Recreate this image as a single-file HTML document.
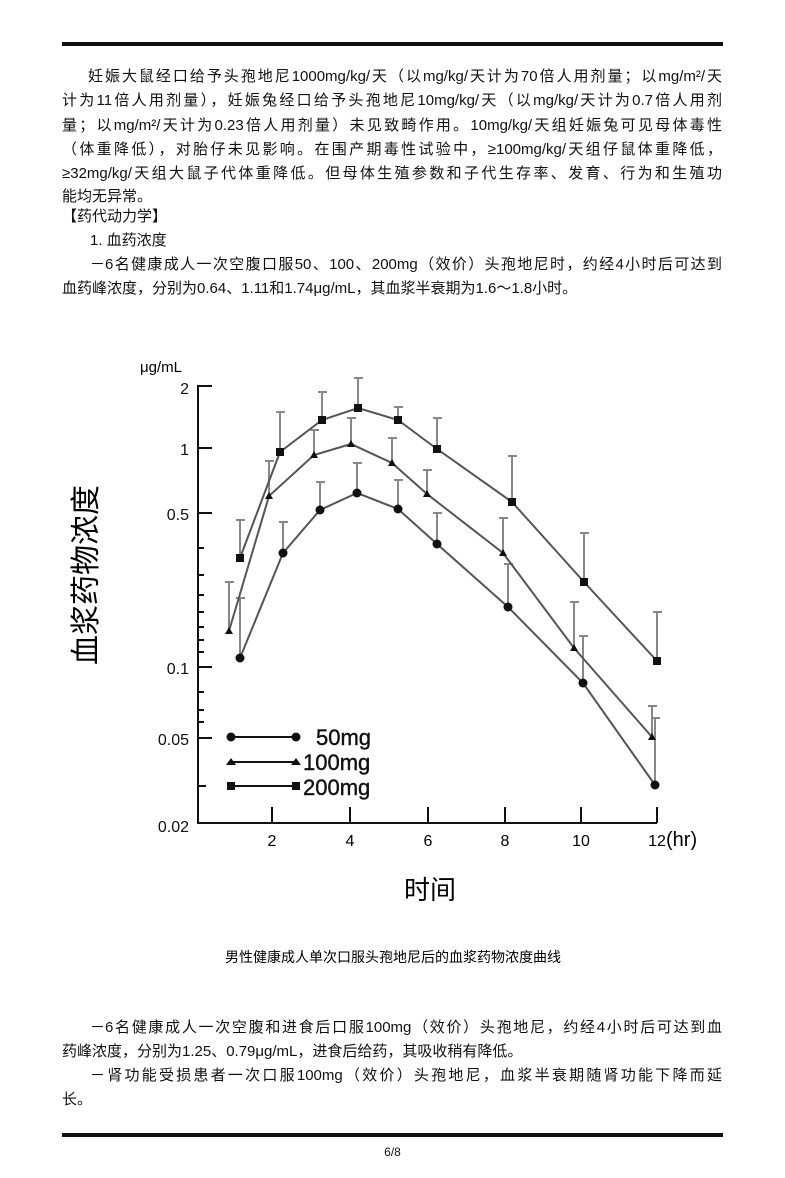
<!DOCTYPE html>
<html><head><meta charset="utf-8"><style>
body{margin:0;background:#fff;width:785px;height:1178px;position:relative;overflow:hidden;font-family:"Liberation Sans","Noto Sans CJK SC",sans-serif;color:#111}
.rule{position:absolute;left:62px;width:661px;background:#111}
.l{position:absolute;left:62px;width:660px;font-size:15px;line-height:20px;white-space:nowrap;text-align:justify;text-align-last:justify}
.n{text-align-last:left}
</style></head><body>
<div class="rule" style="top:42px;height:4px"></div>
<div class="l" style="top:67px;padding-left:26px;width:634px">妊娠大鼠经口给予头孢地尼1000mg/kg/天（以mg/kg/天计为70倍人用剂量；以mg/m²/天</div>
<div class="l" style="top:91px">计为11倍人用剂量），妊娠兔经口给予头孢地尼10mg/kg/天（以mg/kg/天计为0.7倍人用剂</div>
<div class="l" style="top:116px">量；以mg/m²/天计为0.23倍人用剂量）未见致畸作用。10mg/kg/天组妊娠兔可见母体毒性</div>
<div class="l" style="top:140px">（体重降低），对胎仔未见影响。在围产期毒性试验中，≥100mg/kg/天组仔鼠体重降低，</div>
<div class="l" style="top:164px">≥32mg/kg/天组大鼠子代体重降低。但母体生殖参数和子代生存率、发育、行为和生殖功</div>
<div class="l n" style="top:187px">能均无异常。</div>
<div class="l n" style="top:207px">【药代动力学】</div>
<div class="l n" style="top:231px;padding-left:28px">1. 血药浓度</div>
<div class="l" style="top:255px;padding-left:28px;width:632px">－6名健康成人一次空腹口服50、100、200mg（效价）头孢地尼时，约经4小时后可达到</div>
<div class="l n" style="top:279px">血药峰浓度，分别为0.64、1.11和1.74μg/mL，其血浆半衰期为1.6～1.8小时。</div>

<svg style="position:absolute;left:0;top:0" width="785" height="1178" font-family="Liberation Sans, Noto Sans CJK SC, sans-serif">
<g stroke="#111" stroke-width="2" fill="none">
<path d="M212 386 H198 V823 H657"/>
<path d="M198 448 H212 M198 513 H212 M198 667 H212 M198 738 H212 M198 786 H206 M198 692 H204 M198 710 H204 M198 722 H204 M198 548 H204 M198 575 H204 M198 595 H204 M198 612 H204 M198 627 H204 M198 640 H204 M198 652 H204"/>
<path d="M272 823 V807 M350 823 V807 M428 823 V807 M505 823 V807 M581 823 V807 M657 823 V807"/>
</g>
<g font-size="16" text-anchor="end" fill="#111">
<text x="189" y="394">2</text><text x="189" y="455">1</text><text x="189" y="520">0.5</text><text x="189" y="674">0.1</text><text x="189" y="745">0.05</text><text x="189" y="832">0.02</text>
</g>
<text x="140" y="372" font-size="15">μg/mL</text>
<g font-size="16" text-anchor="middle"><text x="272" y="846">2</text><text x="350" y="846">4</text><text x="428" y="846">6</text><text x="505" y="846">8</text><text x="581" y="846">10</text><text x="657" y="846">12</text></g>
<text x="666" y="846" font-size="20">(hr)</text>
<text x="430" y="899" font-size="26" text-anchor="middle">时间</text>
<text transform="translate(96,575) rotate(-90)" font-size="30" text-anchor="middle">血浆药物浓度</text>
<g stroke="#888" stroke-width="2" fill="none">
<path d="M240 558V520M236 520H245 M280 452V412M276 412H285 M322 420V392M318 392H327 M358 408V378M354 378H363 M398 420V407M394 407H403 M437 449V418M433 418H442 M512 502V456M508 456H517 M584 582V533M580 533H589 M657 661V612M653 612H662"/>
<path d="M229 631V582M225 582H234 M269 496V461M265 461H274 M314 455V430M310 430H319 M351 444V418M347 418H356 M392 463V438M388 438H397 M427 494V470M423 470H432 M503 553V518M499 518H508 M574 648V602M570 602H579 M652 737V706M648 706H657"/>
<path d="M240 658V598M236 598H245 M283 553V522M279 522H288 M320 510V482M316 482H325 M357 493V463M353 463H362 M398 509V480M394 480H403 M437 544V513M433 513H442 M508 607V564M504 564H513 M583 683V636M579 636H588 M655 785V718M651 718H660"/>
</g>
<g stroke="#555" stroke-width="2" fill="none">
<polyline points="240,558 280,452 322,420 358,408 398,420 437,449 512,502 584,582 657,661"/>
<polyline points="229,631 269,496 314,455 351,444 392,463 427,494 503,553 574,648 652,737"/>
<polyline points="240,658 283,553 320,510 357,493 398,509 437,544 508,607 583,683 655,785"/>
</g>
<g fill="#111">
<rect x="236" y="554" width="8" height="8"/><rect x="276" y="448" width="8" height="8"/><rect x="318" y="416" width="8" height="8"/><rect x="354" y="404" width="8" height="8"/><rect x="394" y="416" width="8" height="8"/><rect x="433" y="445" width="8" height="8"/><rect x="508" y="498" width="8" height="8"/><rect x="580" y="578" width="8" height="8"/><rect x="653" y="657" width="8" height="8"/>
<path d="M229 627l4 7h-8z M269 492l4 7h-8z M314 451l4 7h-8z M351 440l4 7h-8z M392 459l4 7h-8z M427 490l4 7h-8z M503 549l4 7h-8z M574 644l4 7h-8z M652 733l4 7h-8z"/>
<circle cx="240" cy="658" r="4.5"/><circle cx="283" cy="553" r="4.5"/><circle cx="320" cy="510" r="4.5"/><circle cx="357" cy="493" r="4.5"/><circle cx="398" cy="509" r="4.5"/><circle cx="437" cy="544" r="4.5"/><circle cx="508" cy="607" r="4.5"/><circle cx="583" cy="683" r="4.5"/><circle cx="655" cy="785" r="4.5"/>
</g>
<g stroke="#111" stroke-width="2"><path d="M231 737H296 M231 762H296 M231 786H296"/></g>
<g fill="#111">
<circle cx="231" cy="737" r="4.5"/><circle cx="296" cy="737" r="4.5"/>
<path d="M231 758l5 7h-10z M296 758l5 7h-10z"/>
<rect x="227" y="782" width="8" height="8"/><rect x="292" y="782" width="8" height="8"/>
</g>
<g font-size="22" fill="#111" stroke="#111" stroke-width="0.4"><text x="316" y="745">50mg</text><text x="303" y="770">100mg</text><text x="303" y="795">200mg</text></g>
<text x="393" y="962" font-size="14" text-anchor="middle">男性健康成人单次口服头孢地尼后的血浆药物浓度曲线</text>
</svg>

<div class="l" style="top:1018px;padding-left:28px;width:632px">－6名健康成人一次空腹和进食后口服100mg（效价）头孢地尼，约经4小时后可达到血</div>
<div class="l n" style="top:1042px">药峰浓度，分别为1.25、0.79μg/mL，进食后给药，其吸收稍有降低。</div>
<div class="l" style="top:1066px;padding-left:28px;width:632px">－肾功能受损患者一次口服100mg（效价）头孢地尼，血浆半衰期随肾功能下降而延</div>
<div class="l n" style="top:1090px">长。</div>
<div class="rule" style="top:1133px;height:4px"></div>
<div style="position:absolute;top:1145px;left:0;width:785px;text-align:center;font-size:12px">6/8</div>
</body></html>
